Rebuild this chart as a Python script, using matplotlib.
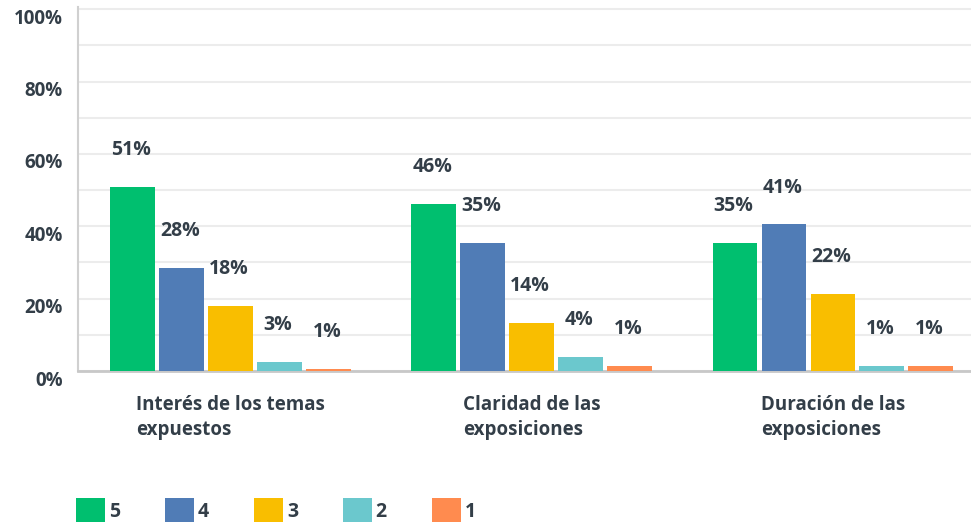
import numpy as np
import matplotlib
matplotlib.use("Agg")
import matplotlib.pyplot as plt
import matplotlib.transforms as mtransforms
from matplotlib.patches import Patch

categories = ["Interés de los temas\nexpuestos", "Claridad de las\nexposiciones", "Duración de las\nexposiciones"]
ratings = ["5", "4", "3", "2", "1"]
# heights (percent) per rating, one value per category
values = {
    "5": [50.8, 46.1, 35.5],
    "4": [28.4, 35.5, 40.5],
    "3": [18.0, 13.4, 21.4],
    "2": [2.5, 3.9, 1.4],
    "1": [0.5, 1.4, 1.4],
}
labels = {
    "5": ["51%", "46%", "35%"],
    "4": ["28%", "35%", "41%"],
    "3": ["18%", "14%", "22%"],
    "2": ["3%", "4%", "1%"],
    "1": ["1%", "1%", "1%"],
}
colors = ["#00bf6f", "#507cb6", "#f9be00", "#6bc8cd", "#ff8b4f"]

text_color = "#333e48"
plt.rcParams["font.family"] = ["Open Sans", "DejaVu Sans"]

fig = plt.figure(figsize=(9.71, 5.24), dpi=100)
ax = fig.add_axes([78 / 971, 1 - 371 / 524, 1 - 78 / 971, (371 - 7) / 524])

x = np.arange(len(categories))
step = 0.1625
width = 0.149
for i, r in enumerate(ratings):
    pos = x + (i - 2) * step
    bars = ax.bar(pos, values[r], width, color=colors[i], zorder=3)
    for b, lab in zip(bars, labels[r]):
        ax.annotate(lab, (b.get_x() + b.get_width() / 2, b.get_height()),
                    xytext=(-1, 26.5), textcoords="offset points",
                    ha="center", va="center", fontsize=14, fontweight="bold",
                    color=text_color, zorder=4)

ax.set_xlim(-0.505, 2.458)
ax.set_ylim(0, 100.6)
ax.set_yticks(np.arange(0, 101, 20))
ax.set_yticklabels([f"{v}%" for v in range(0, 101, 20)])
ax.set_yticks(np.arange(10, 100, 20), minor=True)
ax.grid(axis="y", which="both", color="#ececec", linewidth=1.5, zorder=0)
ax.tick_params(axis="y", which="both", length=0, pad=11, labelsize=13.5, labelcolor=text_color)
for t in ax.get_yticklabels():
    t.set_fontweight("bold")
    t.set_transform(t.get_transform() + mtransforms.ScaledTranslation(0, -7 / 100, fig.dpi_scale_trans))

ax.set_xticks(x)
ax.set_xticklabels(categories, fontsize=13.5, color=text_color, fontweight="bold",
                   multialignment="left", linespacing=1.35)
ax.tick_params(axis="x", length=0, pad=17)

for s in ["top", "right"]:
    ax.spines[s].set_visible(False)
ax.spines["left"].set_color("#d0d0d0")
ax.spines["left"].set_linewidth(1.5)
ax.spines["bottom"].set_color("#c8c8c8")
ax.spines["bottom"].set_linewidth(2)

handles = [Patch(facecolor=c, edgecolor="none") for c in colors]
fig.legend(handles, ratings, loc="lower left", bbox_to_anchor=(76 / 971, 2 / 524),
           ncol=5, frameon=False, handlelength=1.5, handleheight=1.5,
           handletextpad=0.2, columnspacing=2.3, borderpad=0, borderaxespad=0,
           prop={"weight": "bold", "size": 14}, labelcolor=text_color)

fig.savefig("out.png", dpi=100)
